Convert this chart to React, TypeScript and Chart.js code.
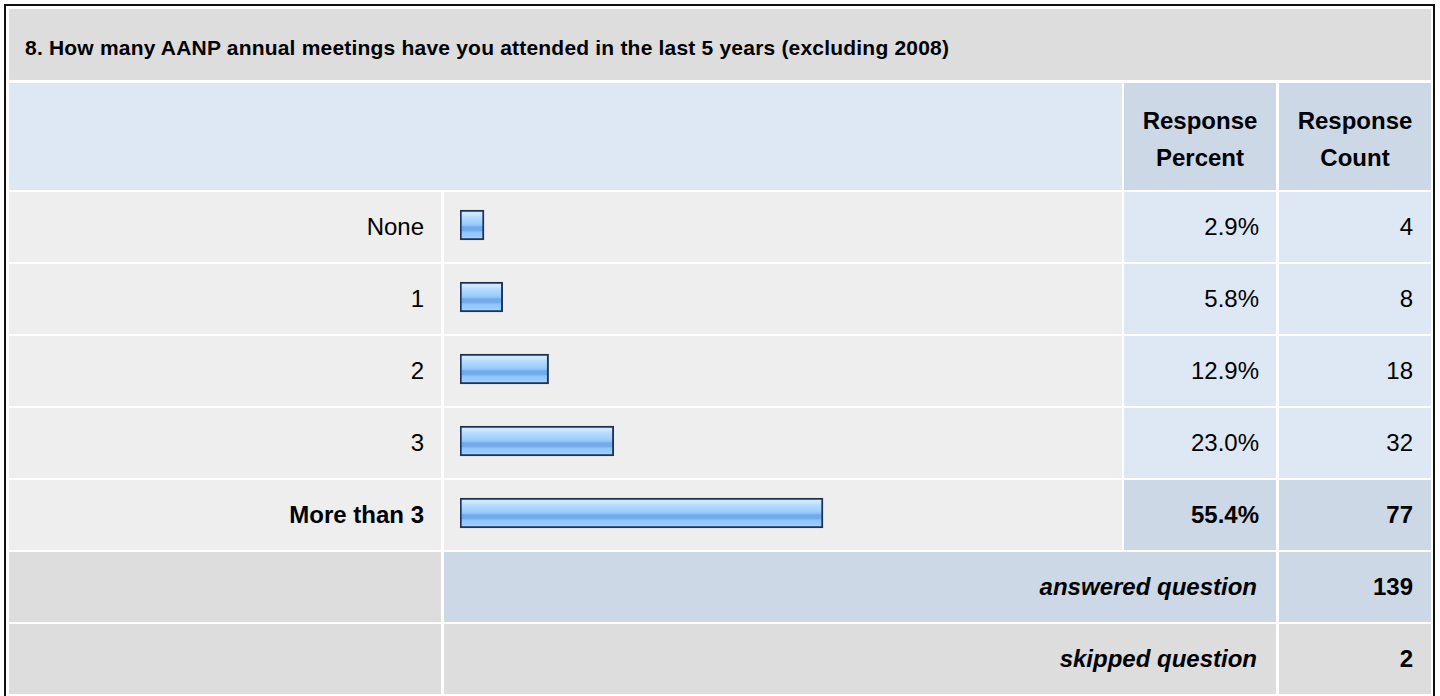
import React, { useEffect, useRef } from "react";
import { Chart, registerables } from "chart.js";

Chart.register(...registerables);

const questionTitle =
  "8. How many AANP annual meetings have you attended in the last 5 years (excluding 2008)";
const headerPercent = ["Response", "Percent"];
const headerCount = ["Response", "Count"];
const categories = ["None", "1", "2", "3", "More than 3"];
const percents = [2.9, 5.8, 12.9, 23.0, 55.4];
const counts = [4, 8, 18, 32, 77];
const answeredLabel = "answered question";
const skippedLabel = "skipped question";
const answeredCount = 139;
const skippedCount = 2;

const FONT = '"Liberation Sans", Arial, Helvetica, sans-serif';
const GREY = "#dddddd";
const LIGHT = "#eeeeee";
const BLUE = "#dee8f5";
const BLUE_DARK = "#ccd8e6";

const COLS: [number, number][] = [
  [9, 441],
  [444, 1122],
  [1124, 1276],
  [1279, 1431],
];
const TITLE_ROW: [number, number] = [9, 80];
const HEAD_ROW: [number, number] = [83, 190];
const ROW0 = 192;
const ROW_STEP = 72;
const ROW_H = 70;

type CellProps = {
  x0: number;
  x1: number;
  y0: number;
  y1: number;
  bg: string;
  align?: "left" | "right" | "center";
  bold?: boolean;
  italic?: boolean;
  size?: number;
  padL?: number;
  padR?: number;
  padT?: number;
  lineHeight?: string;
  letterSpacing?: string;
  children?: React.ReactNode;
};

function Cell(p: CellProps) {
  const justify =
    p.align === "right" ? "flex-end" : p.align === "center" ? "center" : "flex-start";
  return (
    <div
      style={{
        position: "absolute",
        left: p.x0,
        top: p.y0,
        width: p.x1 - p.x0,
        height: p.y1 - p.y0,
        background: p.bg,
        display: "flex",
        alignItems: "center",
        justifyContent: justify,
        boxSizing: "border-box",
        paddingLeft: p.padL ?? 0,
        paddingRight: p.padR ?? 0,
        paddingTop: p.padT ?? 0,
        fontFamily: FONT,
        fontSize: p.size ?? 24,
        fontWeight: p.bold ? "bold" : "normal",
        fontStyle: p.italic ? "italic" : "normal",
        letterSpacing: p.letterSpacing ?? "normal",
        color: "#000",
        textAlign: p.align ?? "left",
        lineHeight: p.lineHeight ?? "normal",
        whiteSpace: "nowrap",
      }}
    >
      {p.children}
    </div>
  );
}

function makePattern(ctx: CanvasRenderingContext2D, step: number, barTop: number, barH: number) {
  const off = document.createElement("canvas");
  off.width = 4;
  off.height = step;
  const o = off.getContext("2d")!;
  const g = o.createLinearGradient(0, barTop, 0, barTop + barH);
  g.addColorStop(0, "#d6ecff");
  g.addColorStop(0.12, "#d0e8ff");
  g.addColorStop(0.25, "#b4dbff");
  g.addColorStop(0.45, "#9ccdfd");
  g.addColorStop(0.52, "#8cc2f7");
  g.addColorStop(0.56, "#72abec");
  g.addColorStop(0.68, "#72abec");
  g.addColorStop(0.74, "#8ec4f8");
  g.addColorStop(0.9, "#9ccefe");
  g.addColorStop(1, "#a6d3ff");
  o.fillStyle = "#eeeeee";
  o.fillRect(0, 0, 4, step);
  o.fillStyle = g;
  o.fillRect(0, barTop, 4, barH);
  return ctx.createPattern(off, "repeat");
}

function BarsChart() {
  const ref = useRef<HTMLCanvasElement | null>(null);
  useEffect(() => {
    const canvas = ref.current!;
    const ctx = canvas.getContext("2d")!;
    const thickness = 30;
    const pattern = makePattern(ctx, ROW_STEP, ROW_STEP / 2 - thickness / 2, thickness);
    const chart = new Chart(canvas, {
      type: "bar",
      data: {
        labels: categories,
        datasets: [
          {
            data: percents,
            base: -0.82,
            barThickness: thickness,
            backgroundColor: pattern as any,
            borderColor: "#1d3557",
            borderWidth: 2,
            borderSkipped: false,
          } as any,
        ],
      },
      options: {
        indexAxis: "y",
        animation: false,
        responsive: false,
        maintainAspectRatio: false,
        devicePixelRatio: 1,
        events: [],
        layout: { padding: { left: 16, right: 11, top: 0, bottom: 0 } },
        scales: {
          x: { type: "linear", min: -0.82, max: 100, display: false },
          y: { type: "category", display: false, offset: true },
        },
        plugins: {
          legend: { display: false },
          tooltip: { enabled: false },
        },
      },
    });
    return () => chart.destroy();
  }, []);
  const w = COLS[1][1] - COLS[1][0];
  const h = ROW_STEP * categories.length;
  return (
    <canvas
      ref={ref}
      width={w}
      height={h}
      style={{
        position: "absolute",
        left: COLS[1][0],
        top: ROW0 - 3,
        width: w,
        height: h,
        pointerEvents: "none",
      }}
    />
  );
}

export default function App() {
  const maxIdx = percents.indexOf(Math.max(...percents));
  const rowY = (i: number): [number, number] => [ROW0 + ROW_STEP * i, ROW0 + ROW_STEP * i + ROW_H];
  const ansY = rowY(categories.length);
  const skipY = rowY(categories.length + 1);
  return (
    <div
      style={{
        position: "absolute",
        left: 0,
        top: 0,
        width: 1440,
        height: 696,
        overflow: "hidden",
        background: "#fff",
      }}
    >
      <div
        style={{
          position: "absolute",
          left: 4,
          top: 4,
          width: 1431,
          height: 720,
          border: "2px solid #111",
          boxSizing: "border-box",
          background: "#fff",
        }}
      />
      <Cell x0={COLS[0][0]} x1={COLS[3][1]} y0={TITLE_ROW[0]} y1={TITLE_ROW[1]} bg={GREY} bold size={21} padL={16} padT={7} letterSpacing="0.2px">
        {questionTitle}
      </Cell>
      <Cell x0={COLS[0][0]} x1={COLS[1][1]} y0={HEAD_ROW[0]} y1={HEAD_ROW[1]} bg={BLUE} />
      <Cell x0={COLS[2][0]} x1={COLS[2][1]} y0={HEAD_ROW[0]} y1={HEAD_ROW[1]} bg={BLUE_DARK} bold align="center" lineHeight="37px" padT={4}>
        <div>
          {headerPercent[0]}
          <br />
          {headerPercent[1]}
        </div>
      </Cell>
      <Cell x0={COLS[3][0]} x1={COLS[3][1]} y0={HEAD_ROW[0]} y1={HEAD_ROW[1]} bg={BLUE_DARK} bold align="center" lineHeight="37px" padT={4}>
        <div>
          {headerCount[0]}
          <br />
          {headerCount[1]}
        </div>
      </Cell>
      {categories.map((c, i) => {
        const [y0, y1] = rowY(i);
        const em = i === maxIdx;
        return (
          <React.Fragment key={c}>
            <Cell x0={COLS[0][0]} x1={COLS[0][1]} y0={y0} y1={y1} bg={LIGHT} align="right" padR={17} bold={em}>
              {c}
            </Cell>
            <Cell x0={COLS[1][0]} x1={COLS[1][1]} y0={y0} y1={y1} bg={LIGHT} />
            <Cell x0={COLS[2][0]} x1={COLS[2][1]} y0={y0} y1={y1} bg={em ? BLUE_DARK : BLUE} align="right" padR={17} bold={em}>
              {percents[i].toFixed(1) + "%"}
            </Cell>
            <Cell x0={COLS[3][0]} x1={COLS[3][1]} y0={y0} y1={y1} bg={em ? BLUE_DARK : BLUE} align="right" padR={18} bold={em}>
              {String(counts[i])}
            </Cell>
          </React.Fragment>
        );
      })}
      <Cell x0={COLS[0][0]} x1={COLS[0][1]} y0={ansY[0]} y1={ansY[1]} bg={GREY} />
      <Cell x0={COLS[1][0]} x1={COLS[2][1]} y0={ansY[0]} y1={ansY[1]} bg={BLUE_DARK} align="right" padR={19} bold italic>
        {answeredLabel}
      </Cell>
      <Cell x0={COLS[3][0]} x1={COLS[3][1]} y0={ansY[0]} y1={ansY[1]} bg={BLUE_DARK} align="right" padR={18} bold>
        {String(answeredCount)}
      </Cell>
      <Cell x0={COLS[0][0]} x1={COLS[0][1]} y0={skipY[0]} y1={skipY[1]} bg={GREY} />
      <Cell x0={COLS[1][0]} x1={COLS[2][1]} y0={skipY[0]} y1={skipY[1]} bg={GREY} align="right" padR={19} bold italic>
        {skippedLabel}
      </Cell>
      <Cell x0={COLS[3][0]} x1={COLS[3][1]} y0={skipY[0]} y1={skipY[1]} bg={GREY} align="right" padR={18} bold>
        {String(skippedCount)}
      </Cell>
      <BarsChart />
    </div>
  );
}
